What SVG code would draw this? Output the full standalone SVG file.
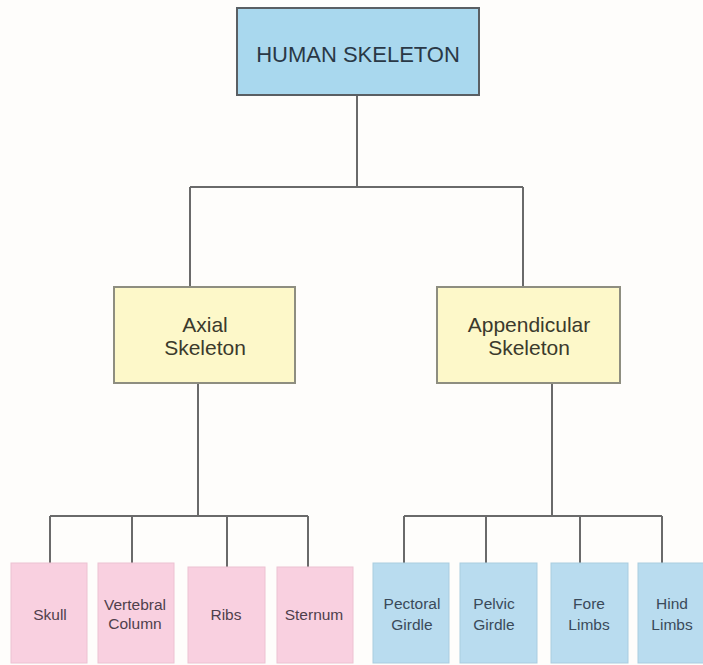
<svg xmlns="http://www.w3.org/2000/svg" width="703" height="665" viewBox="0 0 703 665">
<style>
.bg{fill:#fefdfb}
.line{stroke:#6a6a6a;stroke-width:2;fill:none}
.root{fill:#a9d8ee;stroke:#5a5f63;stroke-width:2}
.mid{fill:#fdf8c9;stroke:#8e8e80;stroke-width:2}
.pink{fill:#f9d0e0;stroke:#ecc2d2;stroke-width:1}
.blue{fill:#b9dcef;stroke:#a9cde0;stroke-width:1}
text{font-family:"Liberation Sans",Arial,sans-serif;text-anchor:middle}
.t1{font-size:22px;fill:#2a3846}
.t2{font-size:21px;fill:#3b3a2c}
.tp{font-size:15.5px;fill:#4f3f4c}
.tb{font-size:15.5px;fill:#3a4a5a}
</style>
<rect class="bg" x="0" y="0" width="703" height="665"/>
<g id="connectors">
<path class="line" d="M357 95V187M190 187H523M190 187V287M523 187V287"/>
<path class="line" d="M198 383V516M50 516H308M50 516V563M132 516V563M227 516V567M308 516V567"/>
<path class="line" d="M552 383V516M404 516H662M404 516V563M486 516V563M580 516V563M662 516V563"/>
</g>
<g id="human-skeleton"><rect class="root" x="237" y="8" width="242" height="87"/><text class="t1" x="358" y="62">HUMAN SKELETON</text></g>
<g id="axial"><rect class="mid" x="114" y="287" width="181" height="96"/><text class="t2" x="205" y="332">Axial</text><text class="t2" x="205" y="355">Skeleton</text></g>
<g id="appendicular"><rect class="mid" x="437" y="287" width="183" height="96"/><text class="t2" x="529" y="332">Appendicular</text><text class="t2" x="529" y="355">Skeleton</text></g>
<g id="skull"><rect class="pink" x="11" y="563" width="76" height="100"/><text class="tp" x="50" y="620">Skull</text></g>
<g id="vertebral-column"><rect class="pink" x="98" y="563" width="76" height="100"/><text class="tp" x="135" y="610">Vertebral</text><text class="tp" x="135" y="629">Column</text></g>
<g id="ribs"><rect class="pink" x="188" y="567" width="77" height="96"/><text class="tp" x="226" y="620">Ribs</text></g>
<g id="sternum"><rect class="pink" x="277" y="567" width="76" height="96"/><text class="tp" x="314" y="620">Sternum</text></g>
<g id="pectoral-girdle"><rect class="blue" x="373" y="563" width="76" height="100"/><text class="tb" x="412" y="609">Pectoral</text><text class="tb" x="412" y="630">Girdle</text></g>
<g id="pelvic-girdle"><rect class="blue" x="460" y="563" width="77" height="100"/><text class="tb" x="494" y="609">Pelvic</text><text class="tb" x="494" y="630">Girdle</text></g>
<g id="fore-limbs"><rect class="blue" x="551" y="563" width="77" height="100"/><text class="tb" x="589" y="609">Fore</text><text class="tb" x="589" y="630">Limbs</text></g>
<g id="hind-limbs"><rect class="blue" x="638" y="563" width="76" height="100"/><text class="tb" x="672" y="609">Hind</text><text class="tb" x="672" y="630">Limbs</text></g>
</svg>
